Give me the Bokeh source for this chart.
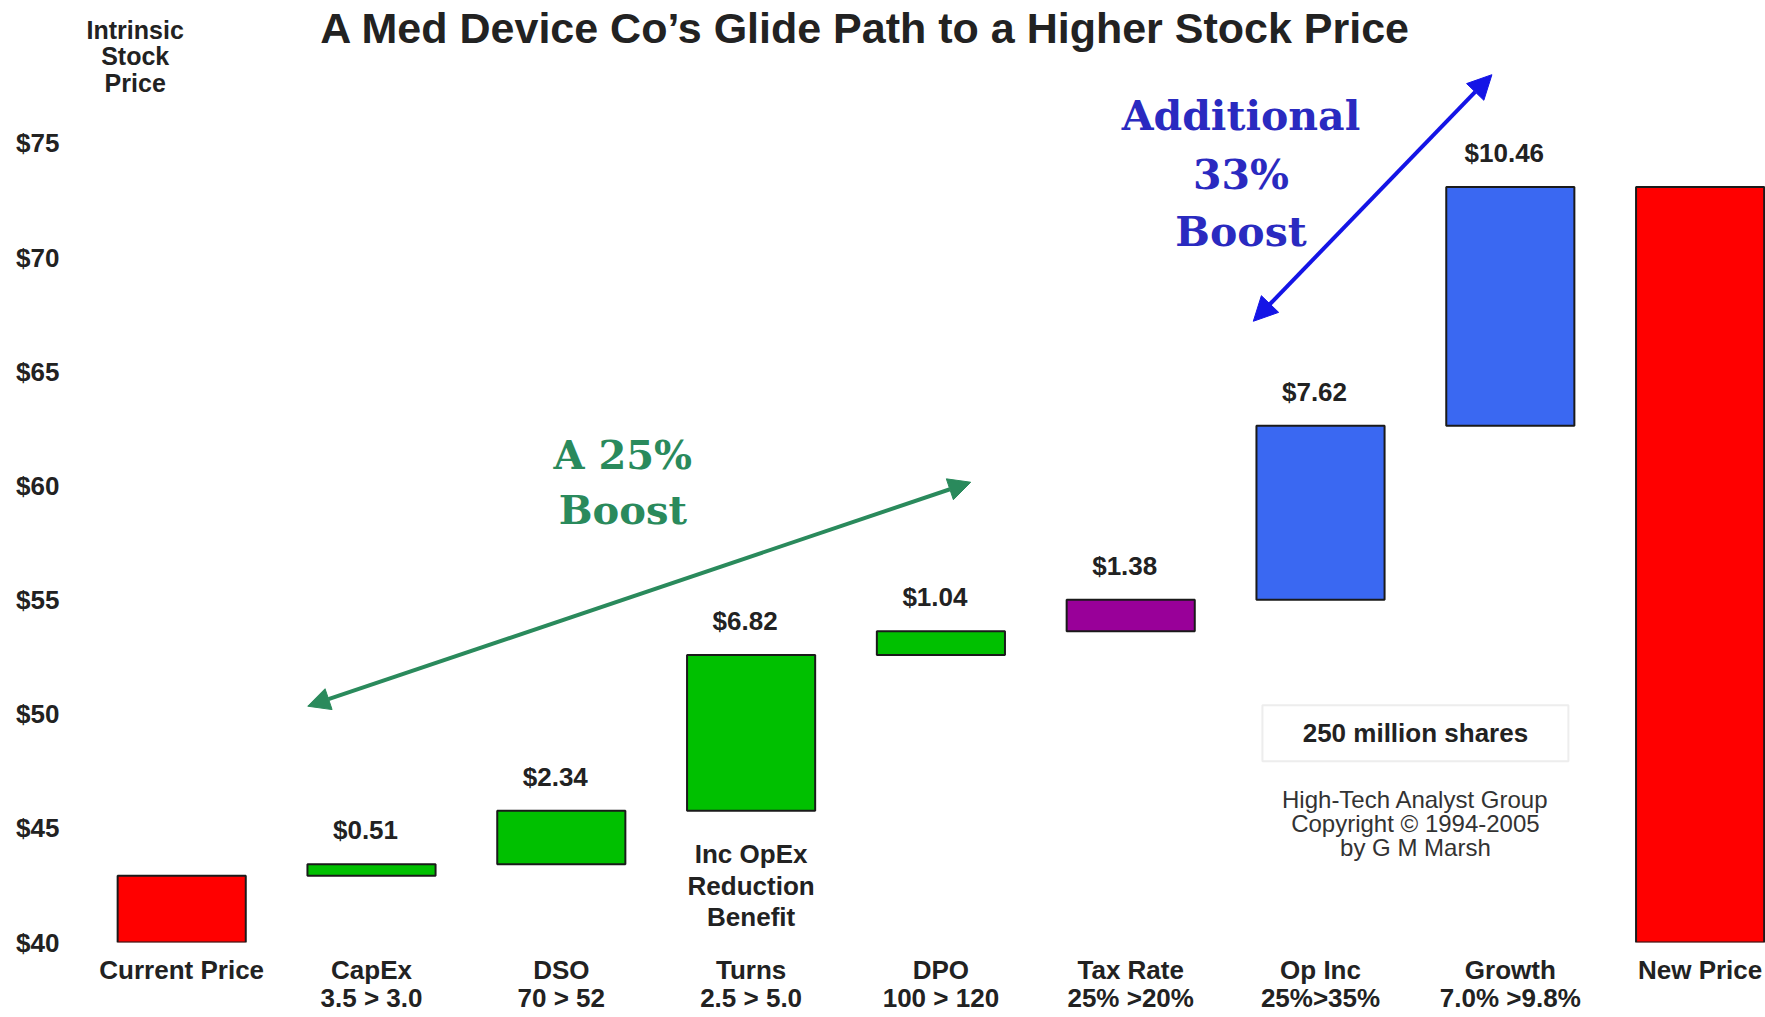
from bokeh.plotting import figure
from bokeh.models import (Range1d, LinearAxis, FixedTicker, ColumnDataSource, LabelSet,
                          Label, Arrow, NormalHead, BoxAnnotation)
from bokeh.core.properties import value
from bokeh.embed import file_html
from bokeh.resources import INLINE

# ---------------- data ----------------
categories = ["Current Price", "CapEx", "DSO", "Turns", "DPO", "Tax Rate", "Op Inc", "Growth", "New Price"]
sub_labels = ["", "3.5 > 3.0", "70 > 52", "2.5 > 5.0", "100 > 120", "25% >20%", "25%>35%", "7.0% >9.8%", ""]
current_price = 42.92
deltas = [0.51, 2.34, 6.82, 1.04, 1.38, 7.62, 10.46]
delta_labels = ["$0.51", "$2.34", "$6.82", "$1.04", "$1.38", "$7.62", "$10.46"]
y_ticks = [40, 45, 50, 55, 60, 65, 70, 75]
y_tick_labels = ["$40", "$45", "$50", "$55", "$60", "$65", "$70", "$75"]

# styles
bar_colors = ["#ff0000", "#00c000", "#00c000", "#00c000", "#00c000", "#990099", "#3a68f2", "#3a68f2", "#ff0000"]
GREEN = "#2a8a5c"
BLUE_ARROW = "#1414e6"
BLUE_TEXT = "#2a2ac0"
FONT = "Liberation Sans"
SERIF = "DejaVu Serif"

# ---------------- waterfall geometry ----------------
base = 40
xs = list(range(len(categories)))
bottoms, tops = [base], [current_price]
level = current_price
for d in deltas:
    bottoms.append(level)
    level = level + d
    tops.append(level)
bottoms.append(base)
tops.append(level)

src = ColumnDataSource(dict(x=xs, bottom=bottoms, top=tops, color=bar_colors))
lab_src = ColumnDataSource(dict(x=xs[1:-1], top=tops[1:-1], label=delta_labels))

p = figure(width=1765, height=1017, x_range=Range1d(-0.5332, 8.3445), y_range=Range1d(40, 81.26),
           output_backend="svg", toolbar_location=None, x_axis_type=None, y_axis_type=None,
           min_border_left=80, min_border_right=0, min_border_top=0, min_border_bottom=75)
p.xgrid.visible = False
p.ygrid.visible = False
p.outline_line_color = None
p.background_fill_color = "white"
p.border_fill_color = "white"

yaxis = LinearAxis(ticker=FixedTicker(ticks=y_ticks),
                   major_label_overrides={t: l for t, l in zip(y_ticks, y_tick_labels)})
xaxis = LinearAxis(ticker=FixedTicker(ticks=xs),
                   major_label_overrides={i: (c + ("\n" + s if s else "")) for i, c, s in zip(xs, categories, sub_labels)})
for ax in (yaxis, xaxis):
    ax.axis_line_color = None
    ax.major_tick_line_color = None
    ax.minor_tick_line_color = None
    ax.major_label_text_font = FONT
    ax.major_label_text_font_style = "bold"
    ax.major_label_text_color = "#222222"
    ax.major_label_text_font_size = "26px"
yaxis.major_label_standoff = 15
xaxis.major_label_standoff = 6
xaxis.major_label_text_line_height = 0.95
p.add_layout(yaxis, "left")
p.add_layout(xaxis, "below")

p.vbar(x="x", width=0.675, bottom="bottom", top="top", fill_color="color", line_color="#1a1a1a",
       line_width=2, source=src)

p.add_layout(LabelSet(x="x", y="top", text="label", source=lab_src, y_offset=34, x_offset=-6,
                      text_font=value(FONT), text_font_style="bold", text_font_size="26px",
                      text_color="#222222", text_align="center", text_baseline="middle"))

def lab(x, y, text, size, color="#222222", font=FONT, style="bold"):
    p.add_layout(Label(x=x, y=y, text=text, text_font=font, text_font_style=style,
                       text_font_size=size, text_color=color, text_align="center",
                       text_baseline="middle"))

# title
lab(3.602, 80.04, "A Med Device Co\u2019s Glide Path to a Higher Stock Price", "43px")
# y-axis caption (kept just inside the plotting frame so it is not clipped)
for yy, t in zip([79.95, 78.84, 77.63], ["Intrinsic", "Stock", "Price"]):
    lab(-0.245, yy, t, "25px")

# note under Turns
for yy, t in zip([43.86, 42.46, 41.10], ["Inc OpEx", "Reduction", "Benefit"]):
    lab(3, yy, t, "26px")

# shares box
p.add_layout(BoxAnnotation(left=5.694, right=7.306, bottom=47.94, top=50.39, fill_color="white",
                           fill_alpha=1, line_color="#c4c4c4", line_width=2))
lab(6.5, 49.17, "250 million shares", "26px")
for yy, t in zip([46.27, 45.22, 44.17], ["High-Tech Analyst Group", "Copyright \u00a9 1994-2005", "by G M Marsh"]):
    lab(6.5, yy, t, "24px", color="#333333", style="normal")

# green boost
p.add_layout(Arrow(start=NormalHead(size=22, fill_color=GREEN, line_color=GREEN),
                   end=NormalHead(size=22, fill_color=GREEN, line_color=GREEN),
                   x_start=0.664, y_start=50.35, x_end=4.157, y_end=60.16,
                   line_color=GREEN, line_width=4))
lab(2.324, 61.39, "A 25%", "40px", color=GREEN, font=SERIF)
lab(2.324, 58.98, "Boost", "40px", color=GREEN, font=SERIF)

# blue boost
p.add_layout(Arrow(start=NormalHead(size=24, fill_color=BLUE_ARROW, line_color=BLUE_ARROW),
                   end=NormalHead(size=24, fill_color=BLUE_ARROW, line_color=BLUE_ARROW),
                   x_start=5.646, y_start=67.21, x_end=6.903, y_end=78.01,
                   line_color=BLUE_ARROW, line_width=4))
for yy, t in zip([76.18, 73.62, 71.11], ["Additional", "33%", "Boost"]):
    lab(5.581, yy, t, "41px", color=BLUE_TEXT, font=SERIF)

open("out.html", "w").write(file_html(p, INLINE))
